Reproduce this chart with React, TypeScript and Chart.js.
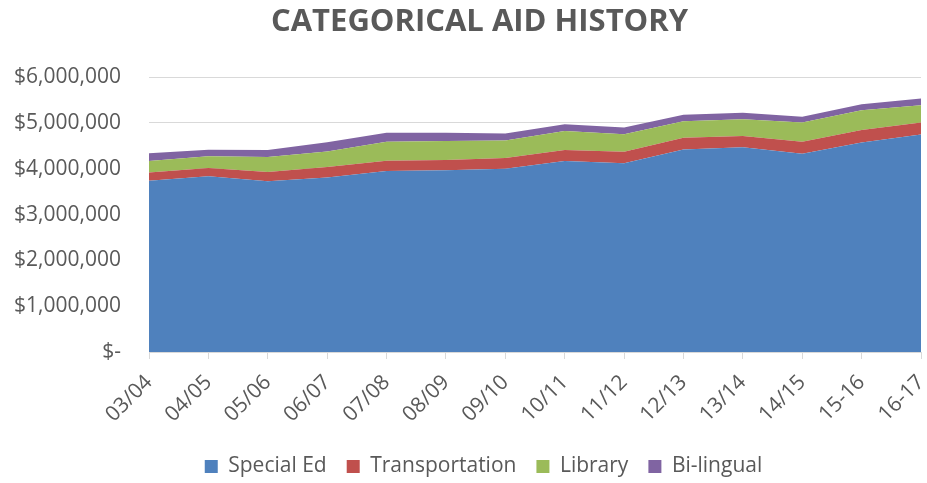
import React, { useEffect, useRef } from "react";
import { Chart, registerables } from "chart.js";

Chart.register(...registerables);

const categories = ["03/04", "04/05", "05/06", "06/07", "07/08", "08/09", "09/10", "10/11", "11/12", "12/13", "13/14", "14/15", "15-16", "16-17"];
const specialEd = [3740000, 3840000, 3730000, 3810000, 3950000, 3970000, 4000000, 4170000, 4120000, 4420000, 4470000, 4330000, 4575000, 4750000];
const transportation = [180000, 180000, 200000, 230000, 225000, 220000, 235000, 240000, 250000, 260000, 245000, 260000, 270000, 260000];
const library = [250000, 255000, 330000, 340000, 415000, 415000, 385000, 415000, 385000, 360000, 365000, 420000, 435000, 380000];
const bilingual = [170000, 140000, 150000, 200000, 195000, 180000, 150000, 145000, 145000, 140000, 145000, 125000, 130000, 145000];
const yTicks = [0, 1000000, 2000000, 3000000, 4000000, 5000000, 6000000];

const FONT = "'Open Sans', 'Liberation Sans', sans-serif";
const TEXT = "#595959";

const shiftBlocks = {
  id: "shiftBlocks",
  afterLayout(chart: any) {
    if (chart.titleBlock) {
      chart.titleBlock.left += 19;
      chart.titleBlock.right += 19;
    }
    if (chart.legend) {
      chart.legend.left += 23;
      chart.legend.right += 23;
    }
  },
};

export default function App() {
  const ref = useRef<HTMLCanvasElement>(null);
  useEffect(() => {
    document.body.style.margin = "0";
    const series = [
      { label: "Special Ed", data: specialEd, color: "#4F81BD" },
      { label: "Transportation", data: transportation, color: "#C0504D" },
      { label: "Library", data: library, color: "#9BBB59" },
      { label: "Bi-lingual", data: bilingual, color: "#8064A2" },
    ];
    const chart = new Chart(ref.current!, {
      type: "line",
      plugins: [shiftBlocks],
      data: {
        labels: categories,
        datasets: series.map((s, i) => ({
          label: s.label,
          data: s.data,
          backgroundColor: s.color,
          borderColor: s.color,
          borderWidth: 0,
          pointRadius: 0,
          fill: i === 0 ? "origin" : "-1",
          tension: 0,
        })),
      },
      options: {
        responsive: false,
        animation: false,
        layout: { padding: { left: 0, right: 6, top: 0, bottom: 0 } },
        plugins: {
          title: {
            display: true,
            text: "CATEGORICAL AID HISTORY",
            color: TEXT,
            font: { family: FONT, size: 31, weight: "bold" },
            padding: { top: 4, bottom: 36 },
          },
          legend: {
            position: "bottom",
            maxHeight: 47,
            labels: {
              color: TEXT,
              font: { family: FONT, size: 21 },
              boxWidth: 13,
              boxHeight: 13,
              padding: 20,
              generateLabels: (c: any) =>
                c.data.datasets.map((d: any, i: number) => ({
                  text: d.label,
                  fillStyle: d.backgroundColor,
                  strokeStyle: d.backgroundColor,
                  lineWidth: 0,
                  datasetIndex: i,
                  fontColor: TEXT,
                })),
            },
          },
          tooltip: { enabled: false },
        },
        scales: {
          x: {
            offset: false,
            grid: { display: true, drawOnChartArea: false, drawTicks: true, tickLength: 7, color: "#d9d9d9" },
            border: { display: true, color: "#d9d9d9" },
            ticks: {
              color: TEXT,
              font: { family: FONT, size: 21 },
              maxRotation: 45,
              minRotation: 45,
              autoSkip: false,
              padding: 11,
            },
            afterFit: (s: any) => {
              s.height = 84;
              s.paddingRight = 0;
              s.paddingLeft = 0;
            },
          },
          y: {
            stacked: true,
            min: 0,
            max: 6000000,
            afterBuildTicks: (s: any) => {
              s.ticks = yTicks.map((v) => ({ value: v }));
            },
            grid: { color: "#d9d9d9", drawTicks: false },
            border: { display: false },
            ticks: {
              color: TEXT,
              font: { family: FONT, size: 21 },
              padding: 28,
              callback: (v: any) => (Number(v) === 0 ? "$-" : "$" + Number(v).toLocaleString("en-US")),
            },
            afterFit: (s: any) => {
              s.width = 149;
            },
          },
        },
      },
    });
    return () => chart.destroy();
  }, []);
  return <canvas ref={ref} width={927} height={483} style={{ display: "block" }} />;
}
